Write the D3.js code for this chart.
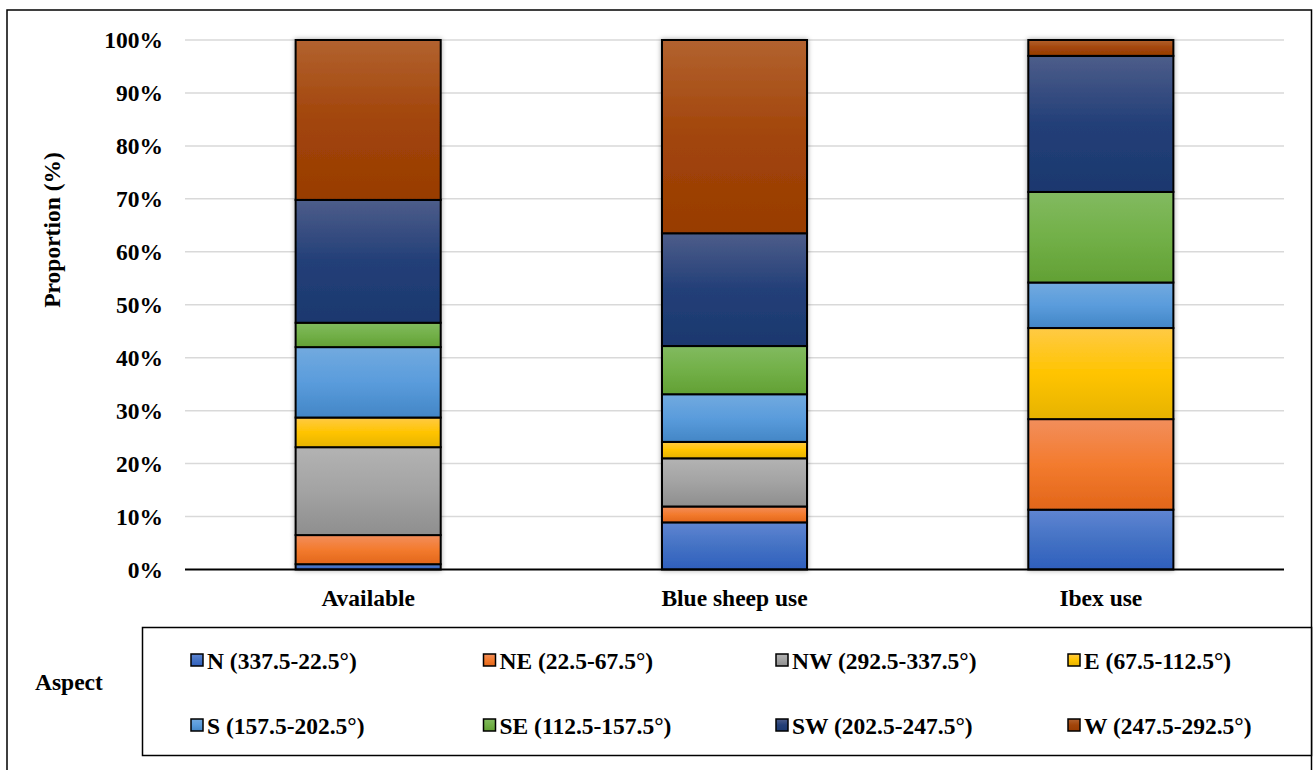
<!DOCTYPE html>
<html>
<head>
<meta charset="utf-8">
<script src="https://cdn.jsdelivr.net/npm/d3@7/dist/d3.min.js"></script>
<style>
  html, body { margin: 0; padding: 0; background: #fff; }
  svg { display: block; }
  text { font-family: "Liberation Serif", "Times New Roman", serif; font-weight: bold; fill: #000; }
</style>
</head>
<body>
<svg id="chart" width="1313" height="770"></svg>
<script>
// Habitat groups along the x axis
const categories = ["Available", "Blue sheep use", "Ibex use"];

// Aspect classes, stacked bottom to top
const aspects = [
  "N (337.5-22.5°)", "NE (22.5-67.5°)", "NW (292.5-337.5°)", "E (67.5-112.5°)",
  "S (157.5-202.5°)", "SE (112.5-157.5°)", "SW (202.5-247.5°)", "W (247.5-292.5°)"
];

// Percentage of each aspect class per group (same order as aspects)
const availableValues  = [1.0, 5.5, 16.6, 5.6, 13.3, 4.6, 23.2, 30.2];
const blueSheepValues  = [8.9, 3.0, 9.1, 3.1, 9.0, 9.1, 21.3, 36.5];
const ibexValues       = [11.3, 17.1, 0.0, 17.2, 8.6, 17.1, 25.7, 3.0];

const yTicks = [0, 10, 20, 30, 40, 50, 60, 70, 80, 90, 100];
const yTickLabels = yTicks.map(t => t + "%");

// Fill gradients: lighter top, base middle, darker bottom
const fills = [
  ["#5f85d2", "#4472c4", "#2f5fbd"],
  ["#f28e5c", "#f37b2e", "#e2661a"],
  ["#b3b3b3", "#a3a3a3", "#8e8e8e"],
  ["#ffca45", "#ffc400", "#e6b300"],
  ["#72aadf", "#5a9cdc", "#4386c6"],
  ["#82ba60", "#72b048", "#62a034"],
  ["#4d5d8a", "#233f78", "#1b386e"],
  ["#b2622f", "#a2450a", "#983c02"]
];

const FONT = 23.5;

const rows = [availableValues, blueSheepValues, ibexValues];
const table = categories.map((c, i) => {
  const o = { group: c };
  aspects.forEach((a, j) => { o[a] = rows[i][j]; });
  return o;
});

const svg = d3.select("#chart");
const defs = svg.append("defs");

fills.forEach((f, i) => {
  const g = defs.append("linearGradient")
    .attr("id", "grad" + i).attr("x1", 0).attr("y1", 0).attr("x2", 0).attr("y2", 1);
  g.append("stop").attr("offset", "0%").attr("stop-color", f[0]);
  g.append("stop").attr("offset", "50%").attr("stop-color", f[1]);
  g.append("stop").attr("offset", "100%").attr("stop-color", f[2]);
});

const shadow = defs.append("filter").attr("id", "soft")
  .attr("x", "-20%").attr("y", "-5%").attr("width", "140%").attr("height", "110%");
shadow.append("feDropShadow").attr("dx", 0).attr("dy", 0)
  .attr("stdDeviation", 2.5).attr("flood-color", "#000").attr("flood-opacity", 0.35);

// Outer frame
svg.append("rect")
  .attr("x", 7).attr("y", 10).attr("width", 1304.5).attr("height", 780)
  .attr("fill", "none").attr("stroke", "#000").attr("stroke-width", 1.5);

const plot = { left: 185, right: 1284, top: 40, bottom: 569.5 };

const x = d3.scaleBand()
  .domain(categories)
  .range([plot.left, plot.right])
  .paddingInner(0.604)
  .paddingOuter(0.302);

const y = d3.scaleLinear().domain([0, 100]).range([plot.bottom, plot.top]);

// Horizontal gridlines
svg.append("g")
  .selectAll("line")
  .data(yTicks.filter(t => t > 0))
  .join("line")
  .attr("x1", plot.left).attr("x2", plot.right)
  .attr("y1", d => y(d)).attr("y2", d => y(d))
  .attr("stroke", "#d9d9d9").attr("stroke-width", 1.5);

// Y axis labels
const yAxis = d3.axisLeft(y).tickValues(yTicks)
  .tickFormat((d, i) => yTickLabels[i]).tickSize(0).tickPadding(22);
const gy = svg.append("g").attr("transform", `translate(${plot.left},0)`).call(yAxis);
gy.select(".domain").remove();
gy.selectAll("text")
  .attr("font-family", "Liberation Serif, Times New Roman, serif")
  .attr("font-weight", "bold").attr("font-size", FONT).attr("fill", "#000");

// Stacked bars
const stack = d3.stack().keys(aspects);
const series = stack(table);

const barLayer = svg.append("g").attr("filter", "url(#soft)");
series.forEach((s, si) => {
  barLayer.append("g")
    .selectAll("rect")
    .data(s.filter(d => d[1] - d[0] > 0))
    .join("rect")
    .attr("x", d => x(d.data.group))
    .attr("width", x.bandwidth())
    .attr("y", d => y(d[1]))
    .attr("height", d => y(d[0]) - y(d[1]))
    .attr("fill", `url(#grad${si})`)
    .attr("stroke", "#000").attr("stroke-width", 2);
});

// X axis line and labels
svg.append("line")
  .attr("x1", plot.left).attr("x2", plot.right)
  .attr("y1", plot.bottom).attr("y2", plot.bottom)
  .attr("stroke", "#000").attr("stroke-width", 2);

const xAxis = d3.axisBottom(x).tickSize(0).tickPadding(20);
const gx = svg.append("g").attr("transform", `translate(0,${plot.bottom})`).call(xAxis);
gx.select(".domain").remove();
gx.selectAll("text")
  .attr("font-family", "Liberation Serif, Times New Roman, serif")
  .attr("font-weight", "bold").attr("font-size", FONT).attr("fill", "#000");

// Y axis title
svg.append("text")
  .attr("transform", "translate(52,230) rotate(-90)")
  .attr("text-anchor", "middle").attr("dominant-baseline", "central")
  .attr("font-size", FONT)
  .text("Proportion (%)");

// Legend
svg.append("rect")
  .attr("x", 142.5).attr("y", 627.5).attr("width", 1169).attr("height", 128)
  .attr("fill", "#fff").attr("stroke", "#000").attr("stroke-width", 1.5);

svg.append("text")
  .attr("x", 35).attr("y", 690)
  .attr("font-size", FONT)
  .text("Aspect");

const colX = [191, 483.5, 776, 1068];
const rowY = [660, 725];
const items = svg.append("g").selectAll("g")
  .data(aspects)
  .join("g")
  .attr("transform", (d, i) => `translate(${colX[i % 4]},${rowY[Math.floor(i / 4)]})`);

items.append("rect")
  .attr("x", 0).attr("y", -6).attr("width", 12).attr("height", 12)
  .attr("fill", (d, i) => `url(#grad${i})`)
  .attr("stroke", "#000").attr("stroke-width", 1.5);

items.append("text")
  .attr("x", 16).attr("y", 8.5)
  .attr("font-size", FONT)
  .text(d => d);
</script>
</body>
</html>
